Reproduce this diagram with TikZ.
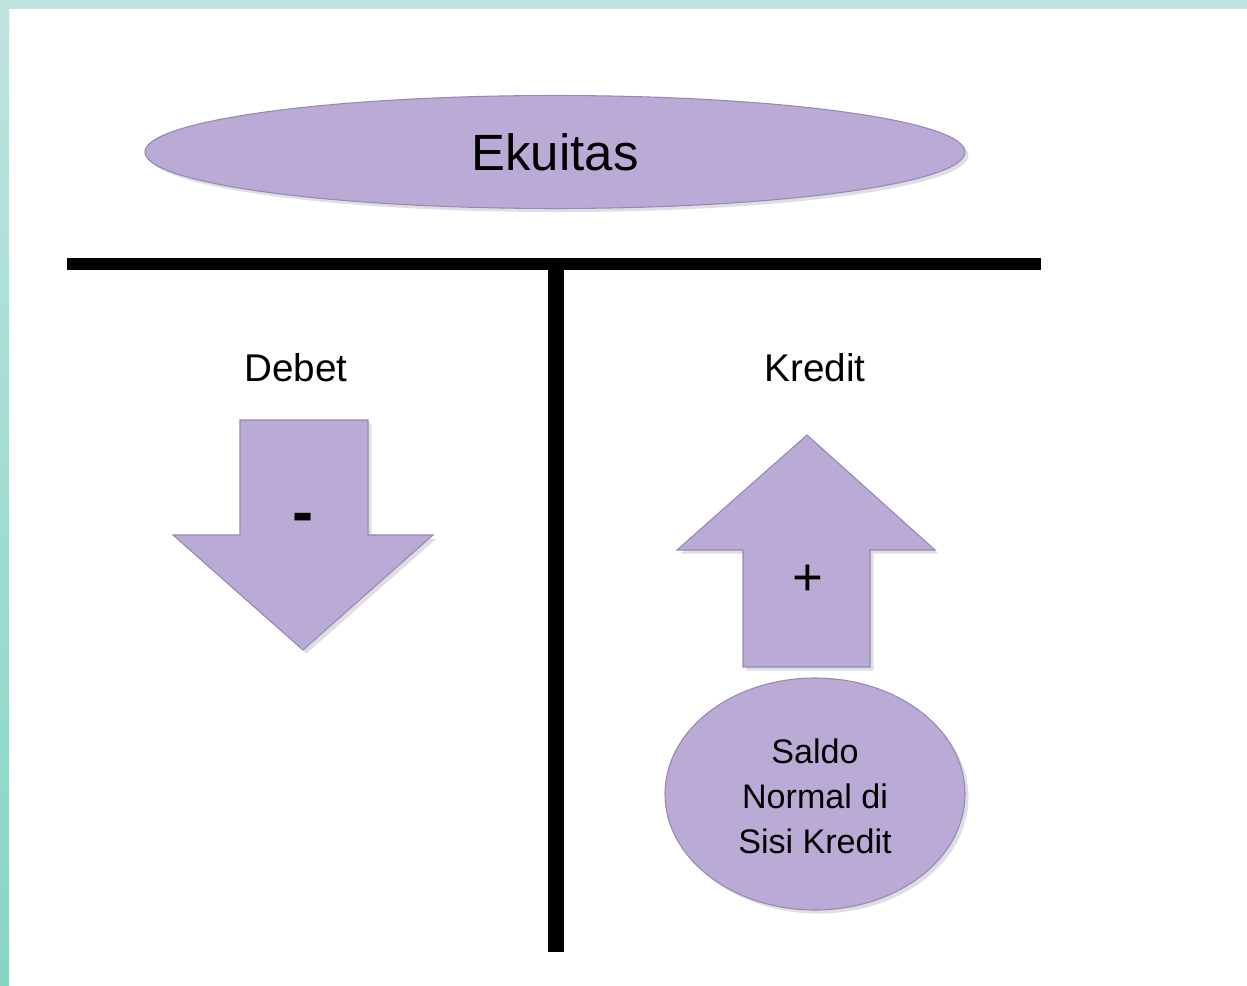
\documentclass[tikz,border=0pt]{standalone}
\usepackage{fontspec}
\setmainfont{Liberation Sans}
\usepackage{tikz}
\usetikzlibrary{shadows,shapes.geometric}

\definecolor{lilac}{RGB}{186,170,214}
\definecolor{lilacedge}{RGB}{150,135,185}
\definecolor{teal1}{RGB}{190,228,222}
\definecolor{teal2}{RGB}{134,214,194}

\tikzset{
  lilacshape/.style={fill=lilac, draw=lilacedge, line width=0.6pt,
                drop shadow={opacity=0.25, shadow xshift=2pt, shadow yshift=-2pt}},
  sidetext/.style={inner sep=0pt, font=\fontsize{22}{26}\selectfont}
}

\begin{document}
\begin{tikzpicture}[x=0.02cm, y=-0.02cm]
        \useasboundingbox (0,0) rectangle (1247,986);
        \fill [white]                (0,0) rectangle (1247,986);      %
        \fill [teal1]                (0,0) rectangle (1247,9);        % top band
        \shade [top color=teal1, bottom color=teal2] (0,0) rectangle (9,986);
        \node [lilacshape, ellipse, minimum width=820*0.02cm, minimum height=113*0.02cm] (ekuitas) at (555,152) {};
        \node [inner sep=0pt, font=\fontsize{29}{34}\selectfont] (ekuitastext) at (555,152) {Ekuitas};
        \draw [line width=6.3pt]     (67,264) -- (1041,264);          % T bar
        \draw [line width=9.6pt]     (556,264) -- (556,952);          % T stem
        \node [sidetext] (debet)  at (296,368) {Debet};                %
        \node [sidetext] (kredit) at (815,368) {Kredit};               %
        \draw [lilacshape] (240,420) -- (368,420) -- (368,535) -- (433,535) -- (303,650) -- (173,535) -- (240,535) -- cycle; % down
        \node [inner sep=0pt, font=\fontsize{36}{40}\selectfont\bfseries] (minus) at (303,523) {-};
        \draw [lilacshape] (743,667) -- (870,667) -- (870,550) -- (935,550) -- (807,435) -- (677,550) -- (743,550) -- cycle; % up
        \node [inner sep=0pt, font=\fontsize{30}{34}\selectfont] (plus) at (808,580) {+};
        \node [lilacshape, ellipse, minimum width=300*0.02cm, minimum height=232*0.02cm] (saldo) at (815,794) {};
        \node [align=center, inner sep=0pt, font=\fontsize{19.4}{25.6}\selectfont] (saldotext) at (815,796) {Saldo\\Normal di\\Sisi Kredit};
\end{tikzpicture}
\end{document}
